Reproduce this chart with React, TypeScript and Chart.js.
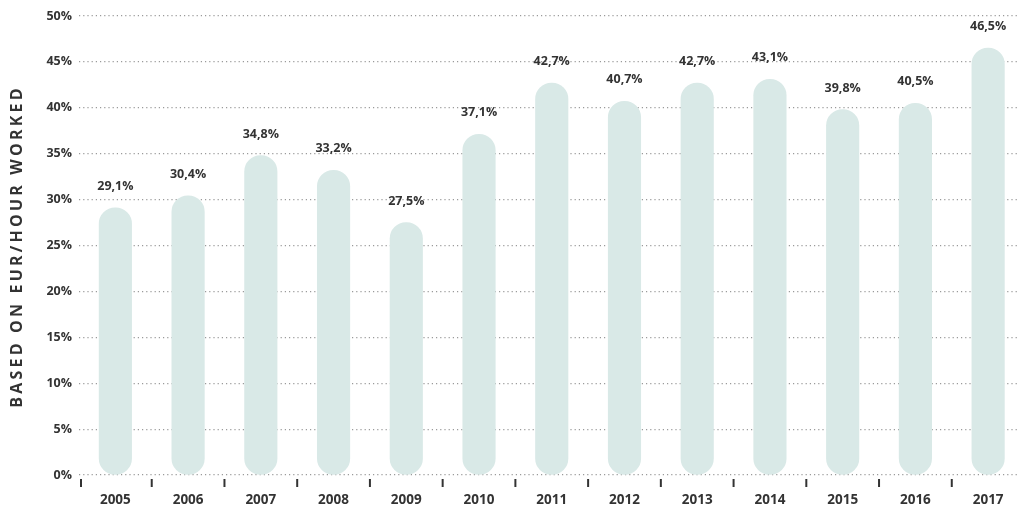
import React, { useEffect, useRef } from "react";
import { Chart, registerables } from "chart.js";

Chart.register(...registerables);

const years = ["2005", "2006", "2007", "2008", "2009", "2010", "2011", "2012", "2013", "2014", "2015", "2016", "2017"];
const shares = [29.1, 30.4, 34.8, 33.2, 27.5, 37.1, 42.7, 40.7, 42.7, 43.1, 39.8, 40.5, 46.5];
const yTitle = "BASED ON EUR/HOUR WORKED";

const FONT = "'Open Sans', 'DejaVu Sans', sans-serif";
const TEXT = "#333333";

const labelPlugin = {
  id: "valueLabels",
  afterDatasetsDraw(chart: any) {
    const ctx = chart.ctx;
    const meta = chart.getDatasetMeta(0);
    ctx.save();
    ctx.font = `700 12.5px ${FONT}`;
    ctx.fillStyle = TEXT;
    ctx.textAlign = "center";
    ctx.textBaseline = "alphabetic";
    meta.data.forEach((bar: any, i: number) => {
      const txt = shares[i].toFixed(1).replace(".", ",") + "%";
      ctx.fillText(txt, bar.x, bar.y - 18);
    });
    ctx.restore();
  },
};

const tickPlugin = {
  id: "catTicks",
  afterDraw(chart: any) {
    const ctx = chart.ctx;
    const xs = chart.scales.x;
    const bottom = chart.chartArea.bottom;
    const step = xs.getPixelForValue(1) - xs.getPixelForValue(0);
    ctx.save();
    ctx.strokeStyle = TEXT;
    ctx.lineWidth = 2;
    for (let i = 0; i < years.length; i++) {
      const x = Math.max(xs.getPixelForValue(i) - step / 2, chart.chartArea.left + 2);
      ctx.beginPath();
      ctx.moveTo(x, bottom + 4);
      ctx.lineTo(x, bottom + 12);
      ctx.stroke();
    }
    ctx.restore();
  },
};

const titlePlugin = {
  id: "yTitle",
  afterDraw(chart: any) {
    const ctx = chart.ctx;
    const ca = chart.chartArea;
    ctx.save();
    ctx.font = `700 16px ${FONT}`;
    ctx.fillStyle = TEXT;
    (ctx as any).letterSpacing = "3.2px";
    ctx.textAlign = "center";
    ctx.textBaseline = "middle";
    ctx.translate(17, (ca.top + ca.bottom) / 2 + 1);
    ctx.rotate(-Math.PI / 2);
    ctx.fillText(yTitle, 0, 0);
    ctx.restore();
  },
};

export default function App() {
  const ref = useRef<HTMLCanvasElement>(null);
  useEffect(() => {
    if (!ref.current) return;
    const chart = new Chart(ref.current, {
      type: "bar",
      data: {
        labels: years,
        datasets: [
          {
            data: shares,
            backgroundColor: "#d9e9e7",
            borderWidth: 0,
            borderRadius: 20,
            borderSkipped: false,
            barThickness: 32.5,
          },
        ],
      },
      options: {
        responsive: false,
        animation: false,
        devicePixelRatio: 1,
        layout: { padding: { top: 16, right: 5.5, left: 0, bottom: 0 } },
        plugins: { legend: { display: false }, tooltip: { enabled: false } },
        scales: {
          x: {
            grid: { display: false },
            border: { display: false },
            ticks: { color: TEXT, font: { family: FONT, size: 13.5, weight: "bold" }, padding: 9 },
            afterFit: (s: any) => {
              s.height = 32;
            },
          },
          y: {
            min: 0,
            max: 50,
            ticks: {
              stepSize: 5,
              color: TEXT,
              padding: 7,
              font: { family: FONT, size: 12.5, weight: "bold" },
              callback: (v: any) => v + "%",
            },
            grid: { color: "#9a9a9a", lineWidth: 1.2, drawTicks: false },
            border: { display: false, dash: [1.2, 3] },
            afterFit: (s: any) => {
              s.width = 79;
            },
          },
        },
      } as any,
      plugins: [labelPlugin, tickPlugin, titlePlugin],
    });
    return () => chart.destroy();
  }, []);
  return (
    <div style={{ position: "fixed", left: 0, top: 0, width: 1017, height: 507, overflow: "hidden", background: "#fff" }}>
      <canvas ref={ref} width={1030} height={507} style={{ display: "block" }} />
    </div>
  );
}
